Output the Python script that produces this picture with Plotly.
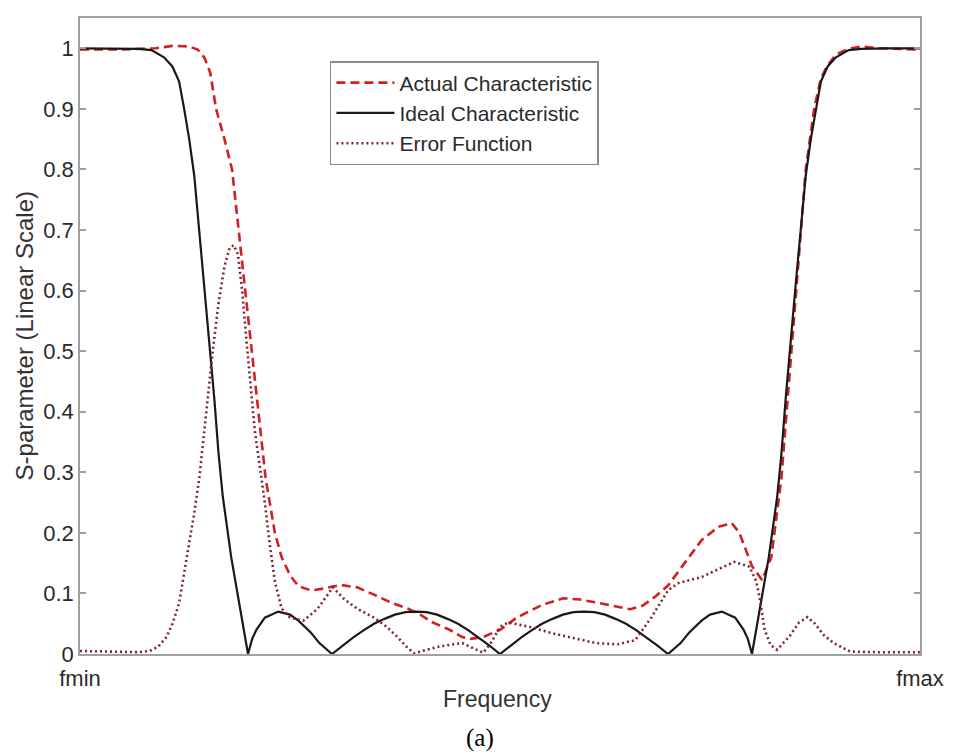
import plotly.graph_objects as go

# ---------------- data (normalized frequency: 0 = fmin, 1 = fmax) ----------------
ideal_f = [0.0, 0.04, 0.07, 0.085, 0.10, 0.11, 0.118, 0.124, 0.13, 0.136, 0.142, 0.148,
           0.154, 0.16, 0.165, 0.17, 0.18, 0.19, 0.2,
           0.205, 0.21, 0.22, 0.236, 0.25, 0.26, 0.275, 0.285, 0.3,
           0.3125, 0.325, 0.3375, 0.35, 0.3625, 0.375, 0.3875, 0.4, 0.4125, 0.425, 0.4375,
           0.45, 0.4625, 0.475, 0.4875, 0.5,
           0.5125, 0.525, 0.5375, 0.55, 0.5625, 0.575, 0.5875, 0.6, 0.6125, 0.625, 0.6375,
           0.65, 0.6625, 0.675, 0.6875, 0.7,
           0.715, 0.725, 0.74, 0.75, 0.764, 0.78, 0.79, 0.795, 0.8,
           0.81, 0.82, 0.83, 0.835, 0.84, 0.846, 0.852, 0.858, 0.864, 0.87, 0.876, 0.882,
           0.89, 0.90, 0.915, 0.93, 0.96, 1.0]
ideal_s = [1.0, 1.0, 0.999, 0.997, 0.985, 0.97, 0.945, 0.9, 0.85, 0.79, 0.7, 0.61,
           0.52, 0.42, 0.33, 0.26, 0.16, 0.08, 0.0,
           0.025, 0.04, 0.06, 0.07, 0.065, 0.055, 0.035, 0.018, 0.0,
           0.014, 0.027, 0.039, 0.05, 0.058, 0.065, 0.069, 0.07, 0.069, 0.065, 0.058,
           0.05, 0.039, 0.027, 0.014, 0.0,
           0.014, 0.027, 0.039, 0.05, 0.058, 0.065, 0.069, 0.07, 0.069, 0.065, 0.058,
           0.05, 0.039, 0.027, 0.014, 0.0,
           0.018, 0.035, 0.055, 0.065, 0.07, 0.06, 0.04, 0.025, 0.0,
           0.08, 0.16, 0.26, 0.33, 0.42, 0.52, 0.61, 0.7, 0.79, 0.85, 0.9, 0.945,
           0.97, 0.985, 0.997, 0.999, 1.0, 1.0]

actual_f = [0.0, 0.05, 0.09, 0.11, 0.13, 0.14, 0.148, 0.155, 0.162, 0.172, 0.181, 0.189,
            0.197, 0.205, 0.213, 0.221, 0.232, 0.24, 0.25, 0.26, 0.275, 0.29, 0.31, 0.33,
            0.35, 0.37, 0.39, 0.405, 0.42, 0.44, 0.455, 0.465, 0.48, 0.5, 0.52, 0.55, 0.575,
            0.595, 0.615, 0.64, 0.655, 0.67, 0.685, 0.7, 0.72, 0.74, 0.76, 0.776, 0.785,
            0.791, 0.80, 0.812, 0.823, 0.835, 0.847, 0.858, 0.864, 0.874, 0.882, 0.889,
            0.9, 0.917, 0.93, 0.95, 1.0]
actual_s = [0.998, 0.998, 1.0, 1.004, 1.003, 0.998, 0.985, 0.96, 0.9, 0.85, 0.8, 0.7,
            0.6, 0.5, 0.4, 0.29, 0.2, 0.16, 0.13, 0.112, 0.105, 0.108, 0.114, 0.11,
            0.098, 0.085, 0.075, 0.065, 0.052, 0.04, 0.028, 0.025, 0.028, 0.04, 0.06, 0.081, 0.092,
            0.09, 0.085, 0.078, 0.074, 0.08, 0.095, 0.113, 0.15, 0.188, 0.21, 0.216, 0.2,
            0.177, 0.145, 0.122, 0.16, 0.29, 0.5, 0.7, 0.8, 0.9, 0.95, 0.97,
            0.99, 1.0, 1.003, 1.0, 0.998]

error_f = [0.0, 0.04, 0.07, 0.083, 0.093, 0.103, 0.11, 0.118, 0.126, 0.136, 0.142, 0.15,
           0.158, 0.165, 0.172, 0.178, 0.183, 0.188, 0.193, 0.198, 0.203, 0.208, 0.214,
           0.22, 0.226, 0.232, 0.24, 0.25, 0.266, 0.283, 0.301, 0.315, 0.33, 0.35, 0.365,
           0.378, 0.39, 0.398, 0.41, 0.43, 0.455, 0.468, 0.48, 0.49, 0.5, 0.51, 0.535,
           0.56, 0.59, 0.614, 0.64, 0.661, 0.68, 0.7, 0.712, 0.74, 0.76, 0.779, 0.797,
           0.805, 0.809, 0.815, 0.822, 0.83, 0.845, 0.856, 0.866, 0.875, 0.885, 0.897,
           0.917, 0.95, 1.0]
error_s = [0.005, 0.004, 0.003, 0.005, 0.012, 0.028, 0.05, 0.084, 0.15, 0.233, 0.29, 0.4,
           0.5, 0.58, 0.64, 0.67, 0.675, 0.66, 0.6, 0.52, 0.44, 0.37, 0.31,
           0.25, 0.18, 0.12, 0.075, 0.06, 0.055, 0.075, 0.11, 0.09, 0.075, 0.06, 0.045,
           0.028, 0.01, 0.001, 0.006, 0.013, 0.018, 0.01, 0.002, 0.02, 0.045, 0.052, 0.045,
           0.035, 0.025, 0.018, 0.016, 0.023, 0.06, 0.105, 0.117, 0.127, 0.14, 0.152, 0.144,
           0.12, 0.094, 0.04, 0.015, 0.007, 0.03, 0.052, 0.061, 0.05, 0.032, 0.018,
           0.004, 0.003, 0.003]

y_ticks = [0, 0.1, 0.2, 0.3, 0.4, 0.5, 0.6, 0.7, 0.8, 0.9, 1.0]
y_tick_text = ["0", "0.1", "0.2", "0.3", "0.4", "0.5", "0.6", "0.7", "0.8", "0.9", "1"]
x_ticks = [0, 1]
x_tick_text = ["fmin", "fmax"]

# ---------------- figure ----------------
SANS = "Liberation Sans, Arial, Helvetica, sans-serif"
TXT = "#2a2a2a"
fig = go.Figure()
fig.add_trace(go.Scatter(x=actual_f, y=actual_s, mode="lines", name="Actual Characteristic",
                         line=dict(color="rgb(208,32,32)", width=2.6, dash="9px,5px")))
fig.add_trace(go.Scatter(x=ideal_f, y=ideal_s, mode="lines", name="Ideal Characteristic",
                         line=dict(color="rgb(25,25,25)", width=2.2)))
fig.add_trace(go.Scatter(x=error_f, y=error_s, mode="lines", name="Error Function",
                         line=dict(color="rgb(130,35,50)", width=2.6, dash="2px,3px")))

fig.update_layout(
    width=956, height=754,
    margin=dict(l=80, r=29, t=18, b=100),
    paper_bgcolor="white", plot_bgcolor="white",
    font=dict(family=SANS, size=21, color=TXT),
    showlegend=True,
    legend=dict(x=(332 - 80) / 847, y=(654 - 61) / 636, xanchor="left", yanchor="top",
                bgcolor="white", bordercolor="#8a8a8a", borderwidth=1.5,
                font=dict(family=SANS, size=21, color=TXT), itemwidth=58,
                entrywidth=235, entrywidthmode="pixels"),
    xaxis=dict(range=[0, 1], tickvals=x_ticks, ticktext=x_tick_text, ticks="",
               showline=True, linecolor="#a0a0a0", linewidth=1.5, mirror=True,
               showgrid=False, zeroline=False, tickfont=dict(size=22),
               ticklabelstandoff=4),
    yaxis=dict(range=[0, 1.05], tickvals=y_ticks, ticktext=y_tick_text, ticks="inside",
               ticklen=6, tickcolor="#a0a0a0", tickwidth=1.5,
               showline=True, linecolor="#a0a0a0", linewidth=1.5, mirror="ticks",
               showgrid=False, zeroline=False, tickfont=dict(size=22)),
    annotations=[
        dict(text="Frequency", xref="paper", yref="paper", x=0.4975, y=(654 - 699) / 636,
             showarrow=False, xanchor="center", yanchor="middle",
             font=dict(family=SANS, size=23, color="#333")),
        dict(text="S-parameter (Linear Scale)", xref="paper", yref="paper",
             x=(24 - 80) / 847, y=(654 - 336) / 636, textangle=-90, showarrow=False,
             xanchor="center", yanchor="middle",
             font=dict(family=SANS, size=24, color="#333")),
        dict(text="(a)", xref="paper", yref="paper", x=(483 - 80) / 847, y=(654 - 738) / 636,
             showarrow=False, xanchor="center", yanchor="middle",
             font=dict(family="Liberation Serif, Times New Roman, serif", size=25, color="black")),
    ],
)

fig.write_html("out.html")
